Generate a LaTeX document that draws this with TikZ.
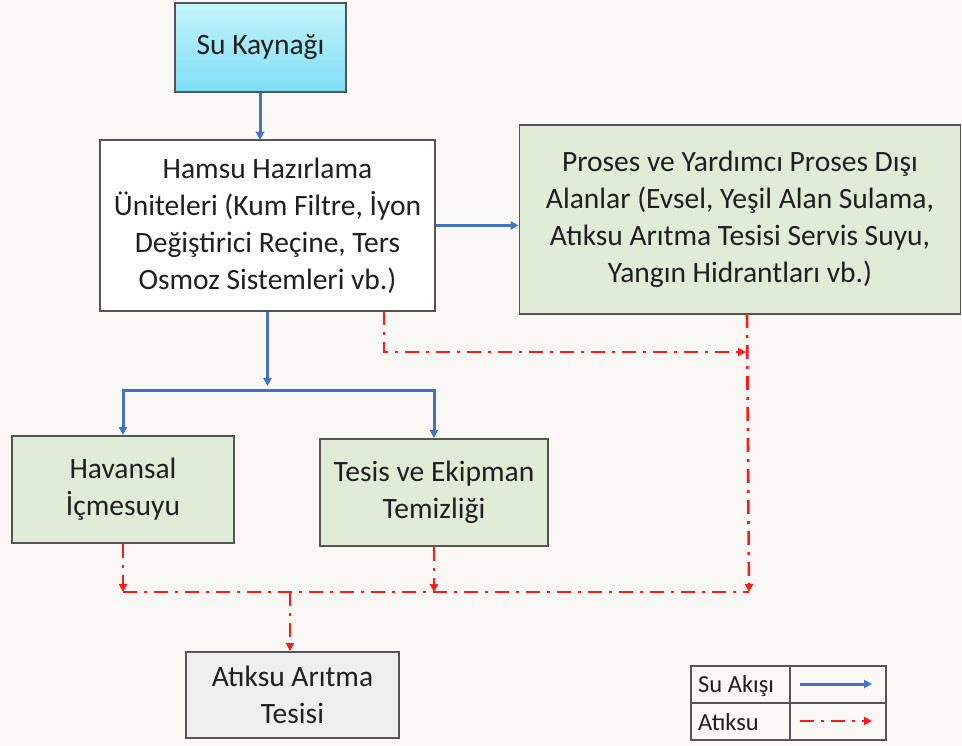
\documentclass[tikz,border=0pt]{standalone}
\usepackage{fontspec}
\setmainfont{Carlito}
\usetikzlibrary{arrows.meta,calc}
\definecolor{bgc}{HTML}{F9F8F5}
\definecolor{boxline}{HTML}{555555}
\definecolor{greenfill}{HTML}{E0ECD7}
\definecolor{grayfill}{HTML}{EFEFEF}
\definecolor{cyantop}{HTML}{C4F4FC}
\definecolor{cyanbot}{HTML}{7EDDF4}
\definecolor{flowblue}{HTML}{4472C4}
\definecolor{wastered}{HTML}{FF1A1A}
\tikzset{
  box/.style={draw=boxline, line width=1.8pt, align=center, inner sep=0pt,
    font=\fontsize{29.5}{37}\selectfont, text=black!88},
  flow/.style={draw=flowblue, line width=3pt, -{Triangle[length=8pt,width=8pt]}},
  waste/.style={draw=wastered, line width=2.6pt, dash pattern=on 14pt off 7pt on 3pt off 7pt,
    -{Triangle[length=8pt,width=8pt]}},
  wasteplain/.style={draw=wastered, line width=2.6pt, dash pattern=on 14pt off 7pt on 3pt off 7pt},
  legtext/.style={font=\fontsize{24.5}{28}\selectfont, text=black!88, anchor=west, inner sep=0pt}
}
\begin{document}
\begin{tikzpicture}[x=1pt,y=-1pt]
\useasboundingbox[fill=bgc] (0,0) rectangle (962,746);

% boxes
\node[box, top color=cyantop, bottom color=cyanbot, minimum width=171pt, minimum height=89pt]
  (su) at (260.5,47.5) {Su Kaynağı};
\node[box, fill=white, minimum width=335pt, minimum height=171pt]
  (hamsu) at (267.5,225.5) {Hamsu Hazırlama\\Üniteleri (Kum Filtre, İyon\\Değiştirici Reçine, Ters\\Osmoz Sistemleri vb.)};
\node[box, fill=greenfill, minimum width=441pt, minimum height=189pt]
  (proses) at (740,219.5) {Proses ve Yardımcı Proses Dışı\\Alanlar (Evsel, Yeşil Alan Sulama,\\Atıksu Arıtma Tesisi Servis Suyu,\\Yangın Hidrantları vb.)};
\node[box, fill=greenfill, minimum width=222pt, minimum height=107pt]
  (havansal) at (123,489.5) {Havansal\\İçmesuyu};
\node[box, fill=greenfill, minimum width=228pt, minimum height=107pt]
  (tesis) at (434,492.5) {Tesis ve Ekipman\\Temizliği};
\node[box, fill=grayfill, minimum width=213pt, minimum height=86pt]
  (atiksu) at (292.5,695) {Atıksu Arıtma\\Tesisi};

% coordinates
\coordinate (busL) at (123,390);
\coordinate (busR) at (434,390);
\coordinate (hw) at (384,311);
\coordinate (rj) at (746,352);
\coordinate (pw) at (747,314);
\coordinate (wbL) at (123,592);
\coordinate (wbR) at (749,592);
\coordinate (wbM) at (290,592);

% blue flows
\draw[flow] (su.south -| 260,0) -- (260,140);
\draw[flow] (hamsu.east) -- (hamsu.east -| proses.west);
\draw[flow] (hamsu.south) -- (267.5,386);
\draw[flowblue, line width=3pt, {Triangle[length=8pt,width=8pt]}-{Triangle[length=8pt,width=8pt]}]
  (havansal.north) -- (busL) -- (busR) -- (tesis.north);

% red waste
\draw[waste] (hw) -- (384,352) -- (rj);
\draw[waste] (pw) -- (749,592);
\draw[waste] (havansal.south) -- (wbL);
\draw[waste] (tesis.south) -- (434,592);
\draw[wasteplain] (wbL) -- (wbR);
\draw[waste] (wbM) -- (wbM |- atiksu.north);

% legend
\draw[boxline, line width=1.8pt] (691,666) rectangle (886,740);
\draw[boxline, line width=1.8pt] (691,703) -- (886,703);
\draw[boxline, line width=1.8pt] (790,666) -- (790,740);
\node[legtext] (l1) at (698,686) {Su Akışı};
\node[legtext] (l2) at (698,722) {Atıksu};
\coordinate (a1s) at (800,684);
\coordinate (a1e) at (872,684);
\coordinate (a2s) at (800,721);
\coordinate (a2e) at (872,721);
\draw[flow] (a1s) -- (a1e);
\draw[waste] (a2s) -- (a2e);
\end{tikzpicture}
\end{document}
